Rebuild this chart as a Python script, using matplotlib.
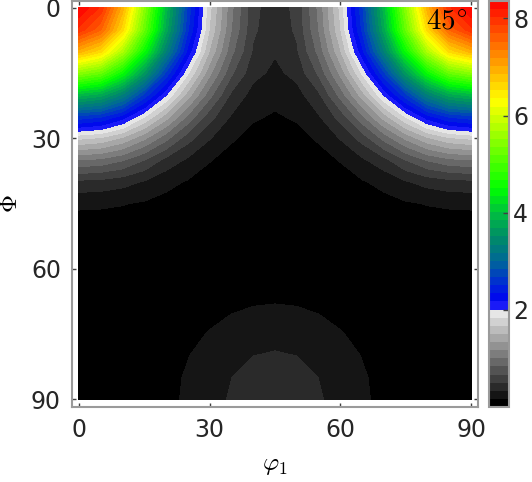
import numpy as np
import matplotlib
matplotlib.use('Agg')
import matplotlib.pyplot as plt

plt.rcParams['mathtext.fontset'] = 'cm'
plt.rcParams['font.family'] = 'DejaVu Sans'

phi1_half = [0, 5, 10, 15, 20, 25, 30, 35, 40, 45]
Phi = [0, 5, 10, 15, 20, 25, 30, 35, 40, 45, 50, 55, 60, 65, 70, 75, 80, 85, 90]
odf_half = np.array([
    [8.35, 7.98, 6.93, 5.45, 3.92, 2.625, 1.715, 1.04, 0.55, 0.40],
    [7.98, 7.545, 6.58, 5.20, 3.76, 2.535, 1.655, 1.00, 0.53, 0.39],
    [6.93, 6.58, 5.70, 4.525, 3.315, 2.28, 1.485, 0.885, 0.476, 0.352],
    [5.45, 5.20, 4.52, 3.60, 2.62, 1.86, 1.211, 0.697, 0.387, 0.292],
    [3.92, 3.76, 3.31, 2.62, 2.016, 1.421, 0.895, 0.467, 0.267, 0.214],
    [2.62, 2.53, 2.27, 1.855, 1.418, 0.965, 0.568, 0.317, 0.187, 0.15],
    [1.70, 1.64, 1.47, 1.20, 0.886, 0.566, 0.344, 0.186, 0.1135, 0.098],
    [1.00, 0.96, 0.85, 0.667, 0.444, 0.303, 0.176, 0.106, 0.0715, 0.06],
    [0.46, 0.444, 0.396, 0.319, 0.215, 0.152, 0.09, 0.062, 0.05, 0.04],
    [0.20, 0.194, 0.176, 0.148, 0.114, 0.087, 0.064, 0.048, 0.038, 0.036],
    [0.09, 0.0875, 0.084, 0.078, 0.068, 0.055, 0.049, 0.041, 0.037, 0.036],
    [0.04, 0.043, 0.046, 0.048, 0.046, 0.044, 0.052, 0.052, 0.052, 0.05],
    [0.017, 0.0245, 0.031, 0.036, 0.042, 0.051, 0.062, 0.07, 0.078, 0.08],
    [0.012, 0.021, 0.028, 0.037, 0.049, 0.068, 0.088, 0.11, 0.125, 0.13],
    [0.012, 0.02, 0.03, 0.046, 0.068, 0.097, 0.13, 0.162, 0.183, 0.19],
    [0.015, 0.025, 0.038, 0.059, 0.088, 0.13, 0.176, 0.225, 0.266, 0.28],
    [0.018, 0.028, 0.044, 0.07, 0.11, 0.162, 0.225, 0.292, 0.333, 0.35],
    [0.02, 0.03, 0.049, 0.078, 0.125, 0.183, 0.266, 0.333, 0.397, 0.43],
    [0.02, 0.03, 0.05, 0.08, 0.13, 0.19, 0.28, 0.35, 0.43, 0.45],
])
seccion = '$45^{\\circ}$'
cbar_ticks = [2, 4, 6, 8]

# completo la seccion por simetria
phi1 = np.concatenate([phi1_half, 90 - np.array(phi1_half[-2::-1])])
odf = np.hstack([odf_half, odf_half[:, -2::-1]])

# niveles y colores: grises hasta 2, luego azul -> verde -> amarillo -> rojo
levels = np.linspace(0, 8.36, 51)
mids = (levels[:-1] + levels[1:]) / 2
anc_v = [2.0, 2.17, 2.5, 3.0, 3.5, 4.0, 4.5, 6.3, 8.36]
anc_r = [0.22, 0.0, 0.0, 0.0, 0.0, 0.0, 0.0, 1.0, 1.0]
anc_g = [0.22, 0.0, 0.15, 0.40, 0.55, 0.75, 1.0, 1.0, 0.0]
anc_b = [1.0, 0.95, 0.85, 0.60, 0.40, 0.25, 0.0, 0.0, 0.0]
n_gris = int(np.sum(mids < 2))
colores = []
for k, m in enumerate(mids):
    if m < 2:
        g = 0.9 * k / (n_gris - 1)
        colores.append((g, g, g))
    else:
        colores.append((np.interp(m, anc_v, anc_r), np.interp(m, anc_v, anc_g), np.interp(m, anc_v, anc_b)))

fig = plt.figure(figsize=(5.32, 4.82), dpi=100)
ax = fig.add_axes([72 / 532, 75 / 482, 406 / 532, 406 / 482])
cax = fig.add_axes([489 / 532, 75 / 482, 20 / 532, 406 / 482])

cf = ax.contourf(phi1, Phi, odf, levels=levels, colors=colores)
ax.set_xlim(-1.6, 91.6)
ax.set_ylim(91.8, -1.6)
ax.set_xticks([0, 30, 60, 90])
ax.set_yticks([0, 30, 60, 90])
ax.tick_params(direction='in', length=3, width=1, color='#404040', labelcolor='#262626',
               labelsize=17, top=True, right=True, pad=8)
for s in ax.spines.values():
    s.set_color('#9a9a9a')
    s.set_linewidth(1.5)
ax.set_xlabel('$\\varphi_1$', fontsize=18, labelpad=8)
ax.set_ylabel('$\\Phi$', fontsize=18, labelpad=6)
ax.text(0.975, 0.985, seccion, transform=ax.transAxes, ha='right', va='top', fontsize=21)

cb = fig.colorbar(cf, cax=cax, ticks=cbar_ticks)
cax.set_ylim(0, 8.36)
cb.outline.set_edgecolor('#9a9a9a')
cb.outline.set_linewidth(1.5)
cax.tick_params(direction='in', length=4, width=1, color='#404040', labelcolor='#262626',
                labelsize=17, pad=3)

fig.savefig('out.png', dpi=100)
